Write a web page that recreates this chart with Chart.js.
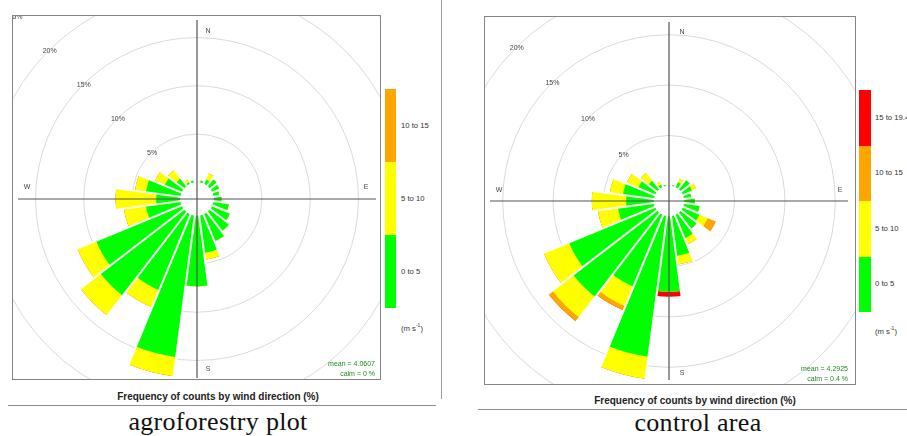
<!DOCTYPE html>
<html><head><meta charset="utf-8">
<script src="https://cdn.jsdelivr.net/npm/chart.js@4"></script>
<style>
html,body{margin:0;padding:0;background:#fff;}
body{width:907px;height:436px;position:relative;overflow:hidden;font-family:"Liberation Sans",Arial,sans-serif;}
.box{position:absolute;border:1px solid #858585;overflow:hidden;background:#fff;}
.box canvas{position:absolute;}
.stat{position:absolute;color:#228B22;font-size:7px;text-align:right;white-space:nowrap;line-height:8px;}
.sw{position:absolute;}
.lab{position:absolute;font-size:7.7px;color:#333;white-space:nowrap;line-height:10px;transform:translateY(-50%);}
.title{position:absolute;font-weight:bold;font-size:10px;color:#222;white-space:nowrap;line-height:12px;transform:translate(-50%,-50%);}
.cap{position:absolute;font-family:"Liberation Serif",serif;font-size:26px;line-height:26px;color:#111;white-space:nowrap;transform:translateX(-50%);letter-spacing:0.3px;}
.hr{position:absolute;height:1px;background:#8c8c8c;}
.vr{position:absolute;width:1px;background:#9a9a9a;}
</style></head><body>

<div class="box" style="left:12px;top:15px;width:367px;height:363px;"><canvas id="c1" width="517" height="517" style="left:-74px;top:-75px;"></canvas></div>
<div class="box" style="left:484px;top:16px;width:370px;height:367px;"><canvas id="c2" width="534" height="534" style="left:-83px;top:-83px;"></canvas></div>

<div id="extras"></div>

<script>
// ---- data ----
const directions = [0,15,30,45,60,75,90,105,120,135,150,165,180,195,210,225,240,255,270,285,300,315,330,345];
const speedBins = ['0 to 5','5 to 10','10 to 15','15 to 19.4'];
const binColors = ['#00FF00','#FFFF00','#FFA500','#FF0000'];
const ringTicks = [5,10,15,20,25];

// agroforestry plot (% of counts per direction and speed bin)
const agroGreen  = [0,0.2,0.5,0.9,0.8,0.6,0.8,1.6,2.0,2.5,3.0,3.9,7.3,14.8,8.5,10.9,9.6,3.6,2.5,3.6,1.9,1.0,0.2,0.2];
const agroYellow = [0,0,0.7,0,0,0,0,0,0,0,0,0.7,0,2.0,1.9,2.6,2.1,2.3,4.2,1.15,1.1,1.1,0.3,0];
const agroOrange = [0,0,0,0,0,0,0,0,0,0,0,0,0,0,0,0,0,0,0,0,0,0,0,0];
const agroRed    = [0,0,0,0,0,0,0,0,0,0,0,0,0,0,0,0,0,0,0,0,0,0,0,0];

// control area
const ctrlGreen  = [0,0.1,0.55,1.15,1.0,0.7,1.07,1.55,1.8,2.0,2.5,4.0,7.5,14.1,7.7,10.5,9.25,3.6,2.75,3.1,1.8,1.1,0.3,0.1];
const ctrlYellow = [0,0,0.35,0,0.45,0,0,0,0.9,0,0.65,0.85,0,2.2,2.1,2.6,2.7,2.0,3.4,1.3,1.25,1.0,0.3,0];
const ctrlOrange = [0,0,0,0,0,0,0,0,0.85,0,0,0,0,0,0.45,0.5,0,0,0,0,0,0,0,0];
const ctrlRed    = [0,0,0,0,0,0,0,0,0,0,0,0,0.5,0,0,0,0,0,0,0,0,0,0,0];

const agroStats = ['mean = 4.0607','calm = 0 %'];
const ctrlStats = ['mean = 4.2925','calm = 0.4 %'];
const cardinals = ['N','E','S','W'];

// ---- build ----
function cumulative(series){
  const out=[]; let acc=directions.map(()=>0);
  series.forEach(s=>{acc=acc.map((v,i)=>v+s[i]); out.push(acc.slice());});
  return out;
}

function rosePlugin(cfg){
  return {
    id:'roseExtras',
    afterDatasetsDraw(chart){
      const s=chart.scales.r, ctx=chart.ctx;
      const cx=s.xCenter, cy=s.yCenter;
      const tot=cfg.totals, n=tot.length, step=360/n;
      ctx.save();
      ctx.strokeStyle='#fff'; ctx.lineWidth=2;
      for(let k=0;k<n;k++){
        const a=(directions[k]+step/2)*Math.PI/180;
        const len=Math.max(s.getDistanceFromCenterForValue(tot[k]),s.getDistanceFromCenterForValue(tot[(k+1)%n]))+2;
        ctx.beginPath();ctx.moveTo(cx,cy);ctx.lineTo(cx+len*Math.sin(a),cy-len*Math.cos(a));ctx.stroke();
      }
      const r0=s.getDistanceFromCenterForValue(0);
      ctx.fillStyle='#fff';ctx.beginPath();ctx.arc(cx,cy,r0,0,2*Math.PI);ctx.fill();
      // axes
      ctx.strokeStyle='#555';ctx.lineWidth=1.2;
      const L=cfg.axisLen;
      ctx.beginPath();ctx.moveTo(cx,cy-L);ctx.lineTo(cx,cy+L);ctx.moveTo(cx-L,cy);ctx.lineTo(cx+L,cy);ctx.stroke();
      // cardinal labels
      ctx.fillStyle='#444';ctx.font='7px "Liberation Sans", Arial, sans-serif';ctx.textAlign='center';ctx.textBaseline='middle';
      cardinals.forEach((t,i)=>{const o=cfg.cardOffsets[i];ctx.fillText(t,cx+o[0],cy+o[1]);});
      // ring labels along NW
      ringTicks.forEach(v=>{
        const d=s.getDistanceFromCenterForValue(v)*Math.SQRT1_2;
        ctx.fillText(v+'%',cx-d+1,cy-d);
      });
      ctx.restore();
    }
  };
}

function makeRose(id, series, min, max, cardOffsets){
  const cum=cumulative(series);
  const datasets=cum.map((vals,i)=>({label:speedBins[i],data:vals,backgroundColor:binColors[i],borderWidth:0}));
  return new Chart(document.getElementById(id),{
    type:'polarArea',
    data:{labels:directions.map(String),datasets},
    options:{
      responsive:false,animation:false,events:[],
      layout:{padding:0},
      plugins:{legend:{display:false},tooltip:{enabled:false}},
      scales:{r:{
        min:min,max:max,startAngle:-7.5,beginAtZero:false,
        ticks:{display:false},
        afterBuildTicks:(sc)=>{sc.ticks=ringTicks.map(v=>({value:v}));},
        grid:{color:'#dadada',lineWidth:1,circular:true},
        angleLines:{display:false},
        pointLabels:{display:false}
      }}
    },
    plugins:[rosePlugin({totals:cum[cum.length-1],axisLen:179,cardOffsets})]
  });
}

makeRose('c1',[agroGreen,agroYellow,agroOrange,agroRed],-1.7275,25,[[11,-168],[169,-12],[11,170],[-170,-12]]);
makeRose('c2',[ctrlGreen,ctrlYellow,ctrlOrange,ctrlRed],-1.509,25,[[13,-169],[171,-11],[13,172],[-170,-11]]);

// ---- HTML extras: legends, stats, titles, captions ----
const ex=document.getElementById('extras');
function add(html){ex.insertAdjacentHTML('beforeend',html);}
function legend(x,w,top,segH,nb,labX,unitY){
  for(let i=0;i<nb;i++){
    const y=top+(nb-1-i)*segH;
    add(`<div class="sw" style="left:${x}px;top:${y}px;width:${w}px;height:${segH}px;background:${binColors[i]}"></div>`);
    add(`<div class="lab" style="left:${labX}px;top:${y+segH/2}px">${speedBins[i]}</div>`);
  }
  add(`<div class="lab" style="left:${labX}px;top:${unitY}px">(m s<sup style="font-size:5px">-1</sup>)</div>`);
}
legend(385,11,89,73,3,401,327);
legend(859,12,90,55.5,4,875,330);

function stats(right,y,txt){
  add(`<div class="stat" style="right:${907-right}px;top:${y-4}px">${txt[0]}</div>`);
  add(`<div class="stat" style="right:${907-right}px;top:${y+6}px">${txt[1]}</div>`);
}
stats(375,364,agroStats);
stats(848,369,ctrlStats);

add(`<div class="title" style="left:218px;top:397px">Frequency of counts by wind direction (%)</div>`);
add(`<div class="title" style="left:695px;top:401px">Frequency of counts by wind direction (%)</div>`);
add(`<div class="hr" style="left:8px;top:405px;width:428px"></div>`);
add(`<div class="hr" style="left:478px;top:409px;width:429px"></div>`);
add(`<div class="vr" style="left:441px;top:0px;height:399px"></div>`);
add(`<div class="cap" style="left:218px;top:409px">agroforestry plot</div>`);
add(`<div class="cap" style="left:698px;top:410px">control area</div>`);
</script>
</body></html>
